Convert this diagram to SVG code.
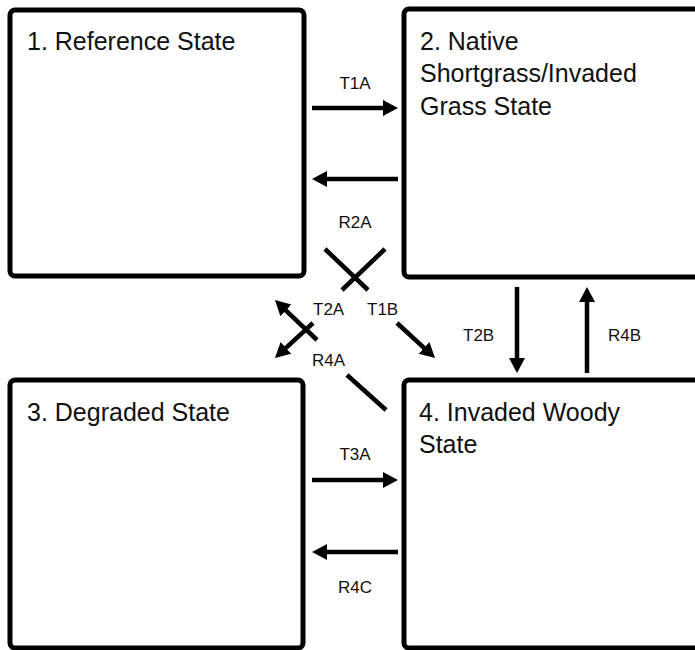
<svg xmlns="http://www.w3.org/2000/svg" width="695" height="650" viewBox="0 0 695 650">
  <style>
    .box { fill: #ffffff; stroke: #000000; stroke-width: 5; }
    .title { font-family: "Liberation Sans", Arial, sans-serif; font-size: 25px; fill: #111111; }
    .lbl { font-family: "Liberation Sans", Arial, sans-serif; font-size: 17px; fill: #111111; }
    .conn { stroke: #000000; stroke-width: 4.5; fill: none; }
  </style>
  <defs>
    <marker id="ah" markerUnits="userSpaceOnUse" markerWidth="16" markerHeight="18" refX="3" refY="8" orient="auto">
      <path d="M0,0 L15,8 L0,16 z" fill="#000000"/>
    </marker>
  </defs>
  <rect width="695" height="650" fill="#ffffff"/>

  <g id="node1">
    <rect class="box" x="10" y="10" width="294" height="266" rx="5"/>
    <text class="title" x="27" y="50">1. Reference State</text>
  </g>
  <g id="node2">
    <rect class="box" x="404" y="9" width="310" height="268" rx="5"/>
    <text class="title" x="420" y="50">2. Native</text>
    <text class="title" x="420" y="82">Shortgrass/Invaded</text>
    <text class="title" x="420" y="115">Grass State</text>
  </g>
  <g id="node3">
    <rect class="box" x="10" y="380" width="293" height="268" rx="5"/>
    <text class="title" x="27" y="421">3. Degraded State</text>
  </g>
  <g id="node4">
    <rect class="box" x="404" y="380" width="310" height="268" rx="5"/>
    <text class="title" x="419" y="421">4. Invaded Woody</text>
    <text class="title" x="419" y="453">State</text>
  </g>

  <g id="connectors">
    <line class="conn" x1="312" y1="108" x2="386" y2="108" marker-end="url(#ah)"/>
    <line class="conn" x1="398" y1="179" x2="324" y2="179" marker-end="url(#ah)"/>
    <line class="conn" x1="312" y1="480" x2="386" y2="480" marker-end="url(#ah)"/>
    <line class="conn" x1="398" y1="552" x2="324" y2="552" marker-end="url(#ah)"/>
    <line class="conn" x1="517" y1="287" x2="517" y2="361" marker-end="url(#ah)"/>
    <line class="conn" x1="587" y1="373" x2="587" y2="299" marker-end="url(#ah)"/>
    <line class="conn" x1="325" y1="249" x2="368" y2="290"/>
    <line class="conn" x1="397" y1="323" x2="426.2" y2="349.9" marker-end="url(#ah)"/>
    <line class="conn" x1="385" y1="249" x2="342" y2="290"/>
    <line class="conn" x1="313" y1="323" x2="283.8" y2="349.9" marker-end="url(#ah)"/>
    <line class="conn" x1="386" y1="410" x2="347" y2="375"/>
    <line class="conn" x1="317" y1="340" x2="283.7" y2="308.3" marker-end="url(#ah)"/>
  </g>

  <g id="labels">
    <text class="lbl" x="355" y="89" text-anchor="middle">T1A</text>
    <text class="lbl" x="355" y="228" text-anchor="middle">R2A</text>
    <text class="lbl" x="355" y="460" text-anchor="middle">T3A</text>
    <text class="lbl" x="355" y="593" text-anchor="middle">R4C</text>
    <text class="lbl" x="463" y="341">T2B</text>
    <text class="lbl" x="608" y="341">R4B</text>
    <text class="lbl" x="313" y="315">T2A</text>
    <text class="lbl" x="367" y="315">T1B</text>
    <text class="lbl" x="312" y="366">R4A</text>
  </g>
</svg>
